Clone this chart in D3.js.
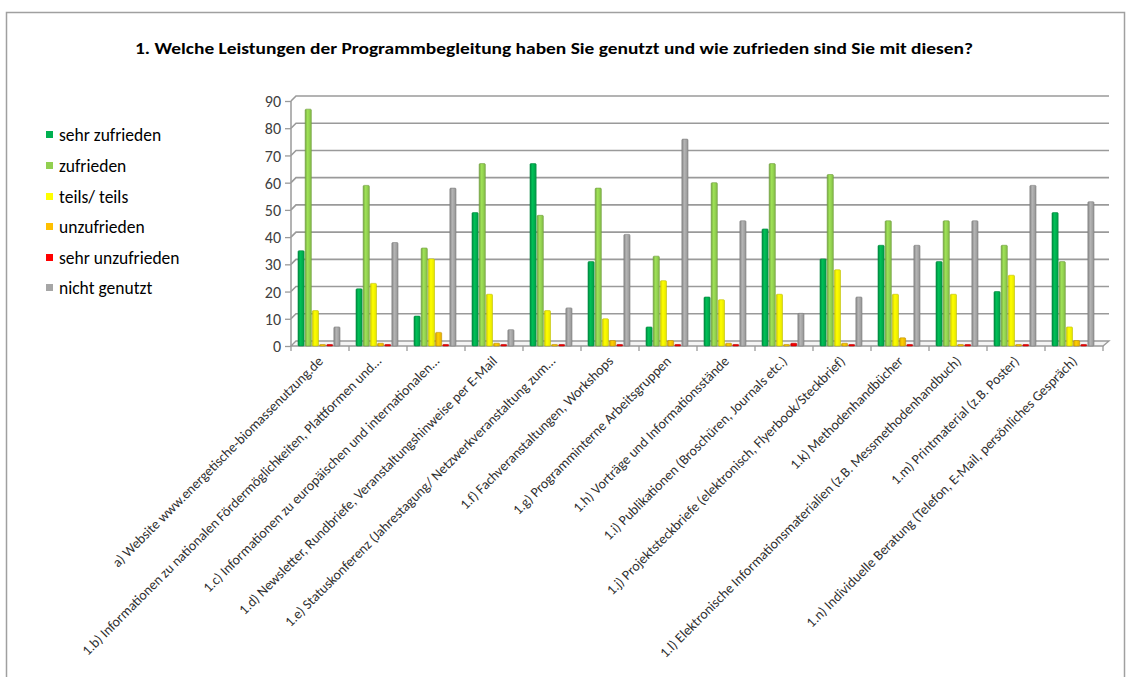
<!DOCTYPE html>
<html><head><meta charset="utf-8">
<script src="https://cdn.jsdelivr.net/npm/d3@7"></script>
<style>body{margin:0;background:#fff}svg{display:block}</style>
</head><body>
<script>
const title = "1. Welche Leistungen der Programmbegleitung haben Sie genutzt und wie zufrieden sind Sie mit diesen?";
const categories = [
 "a) Website www.energetische-biomassenutzung.de",
 "1.b) Informationen zu nationalen Fördermöglichkeiten, Plattformen und…",
 "1.c) Informationen zu europäischen und internationalen…",
 "1.d) Newsletter, Rundbriefe, Veranstaltungshinweise per E-Mail",
 "1.e) Statuskonferenz (Jahrestagung/ Netzwerkveranstaltung zum…",
 "1.f) Fachveranstaltungen, Workshops",
 "1.g) Programminterne Arbeitsgruppen",
 "1.h) Vorträge und Informationsstände",
 "1.i) Publikationen (Broschüren, Journals etc.)",
 "1.j) Projektsteckbriefe (elektronisch, Flyerbook/Steckbrief)",
 "1.k) Methodenhandbücher",
 "1.l) Elektronische Informationsmaterialien (z.B. Messmethodenhandbuch)",
 "1.m) Printmaterial (z.B. Poster)",
 "1.n) Individuelle Beratung (Telefon, E-Mail, persönliches Gespräch)"
];
const seriesNames = ["sehr zufrieden","zufrieden","teils/ teils","unzufrieden","sehr unzufrieden","nicht genutzt"];
const seriesColors = ["#00B050","#92D050","#FFFF00","#FFC000","#FF0000","#A6A6A6"];
const sehrZufrieden   = [35,21,11,49,67,31,7,18,43,32,37,31,20,49];
const zufrieden       = [87,59,36,67,48,58,33,60,67,63,46,46,37,31];
const teilsTeils      = [13,23,32,19,13,10,24,17,19,28,19,19,26,7];
const unzufrieden     = [0,1,5,1,0,2,2,1,0,1,3,0,0,2];
const sehrUnzufrieden = [0,0,0,0,0,0,0,0,1,0,0,0,0,0];
const nichtGenutzt    = [7,38,58,6,14,41,76,46,12,18,37,46,59,53];
const yTicks = [0,10,20,30,40,50,60,70,80,90];
const seriesValues = [sehrZufrieden,zufrieden,teilsTeils,unzufrieden,sehrUnzufrieden,nichtGenutzt];

const W=1129,H=677;
const svg=d3.select("body").append("svg").attr("width",W).attr("height",H);
const font="Calibri, Carlito, 'Open Sans', sans-serif";

// frame
svg.append("rect").attr("x",6.5).attr("y",12.5).attr("width",1118).attr("height",680)
  .attr("fill","none").attr("stroke","#a0a0a0").attr("stroke-width",1.5);

// title
svg.append("text").attr("x",554).attr("y",54).attr("text-anchor","middle")
  .attr("font-family",font).attr("font-weight","bold").attr("font-size",15.5).attr("fill","#000")
  .attr("textLength",838).attr("lengthAdjust","spacingAndGlyphs").text(title);

// gradients
const defs=svg.append("defs");
seriesColors.forEach((c,i)=>{
  const g=defs.append("linearGradient").attr("id","g"+i).attr("x1","0").attr("x2","1").attr("y1","0").attr("y2","0");
  const col=d3.color(c);
  g.append("stop").attr("offset","0%").attr("stop-color",col.darker(0.6));
  g.append("stop").attr("offset","40%").attr("stop-color",col.brighter(0.25));
  g.append("stop").attr("offset","100%").attr("stop-color",col.darker(0.3));
});

const left=291, right=1103, dx=5, dy=5;
const y=d3.scaleLinear().domain([0,90]).range([346,101]);
const x0=d3.scaleBand().domain(categories).range([left,right]).paddingInner(0).paddingOuter(0);
const x1=d3.scaleBand().domain(d3.range(6)).range([7,49]).paddingInner(1/7).paddingOuter(0);

// back wall gridlines
const grid=svg.append("g");
yTicks.forEach(t=>{
  if(t===0) return;
  grid.append("path").attr("d",`M${left},${y(t)} L${left+dx},${y(t)-dy} L${right+dx+1},${y(t)-dy}`)
    .attr("fill","none").attr("stroke","#9a9a9a").attr("stroke-width",1.6);
});
grid.append("line").attr("x1",left).attr("x2",left).attr("y1",y(90)).attr("y2",y(0))
  .attr("stroke","#9a9a9a").attr("stroke-width",1.5);
grid.append("path").attr("d",`M${left},${y(0)} L${left+dx},${y(0)-dy} L${right+dx+1},${y(0)-dy} L${right},${y(0)} Z`)
  .attr("fill","#f4f4f4").attr("stroke","#9a9a9a").attr("stroke-width",1.3);

// y axis
const yAxis=d3.axisLeft(y).tickValues(yTicks).tickSize(6).tickPadding(4);
const ya=svg.append("g").attr("transform",`translate(${left},0)`).call(yAxis);
ya.select(".domain").remove();
ya.selectAll("line").attr("stroke","#9a9a9a").attr("stroke-width",1.3);
ya.selectAll("text").attr("font-family",font).attr("font-size",16).attr("fill","#404040").attr("dy","0.35em");

// bars
const gBars=svg.append("g");
categories.forEach((cat,ci)=>{
  seriesValues.forEach((vals,si)=>{
    const v=vals[ci];
    const bx=x0(cat)+x1(si), bw=x1.bandwidth();
    const top=y(v), h=Math.max(y(0)-top,1.5);
    gBars.append("rect").attr("x",bx).attr("y",y(0)-h).attr("width",bw).attr("height",h)
      .attr("fill",`url(#g${si})`).attr("stroke",d3.color(seriesColors[si]).darker(0.8)).attr("stroke-width",0.6)
      .attr("rx",1);
  });
});

// x axis ticks and labels
const xa=svg.append("g");
d3.range(categories.length+1).forEach(i=>{
  const xx=left+i*x0.step();
  xa.append("line").attr("x1",xx).attr("x2",xx).attr("y1",y(0)).attr("y2",y(0)+5)
    .attr("stroke","#9a9a9a").attr("stroke-width",1.3);
});
categories.forEach(cat=>{
  const cx=x0(cat)+x0.bandwidth()/2+4;
  xa.append("text").attr("transform",`translate(${cx},${y(0)+16}) rotate(-45)`)
    .attr("text-anchor","end").attr("font-family",font).attr("font-size",14).attr("fill","#303030")
    .text(cat);
});

// legend
const lg=svg.append("g");
const ly=[135,166,197,227,258,288];
seriesNames.forEach((n,i)=>{
  lg.append("rect").attr("x",46).attr("y",ly[i]-4).attr("width",7).attr("height",7).attr("fill",seriesColors[i]);
  lg.append("text").attr("x",59).attr("y",ly[i]).attr("dy","0.35em").attr("font-family",font)
    .attr("font-size",17.5).attr("fill","#000").text(n);
});
</script>
</body></html>
